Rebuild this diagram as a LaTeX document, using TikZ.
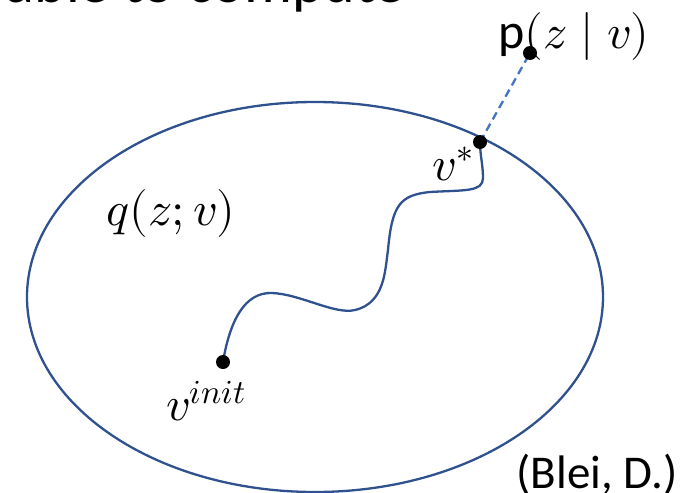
\documentclass[tikz,border=0pt]{standalone}
\usepackage{fontspec}
\usepackage{unicode-math}
\setmathfont{Latin Modern Math}
\newfontfamily\calfont{Carlito}
\definecolor{ovalblue}{HTML}{2F528F}
\definecolor{gapblue}{HTML}{4472C4}

\begin{document}
\begin{tikzpicture}[x=1pt, y=-1pt,
    curve/.style={ovalblue, line width=2.3pt},
    dot/.style={circle, fill=black, inner sep=0pt, minimum size=14pt},
    mathlbl/.style={font=\fontsize{48}{52}\selectfont, inner sep=0pt}]
  \def\Cx{315}   % centre of the family, px
  \def\Cy{297}
  \def\Rx{288}
  \def\Ry{195}

  \useasboundingbox (0,0) rectangle (686,493);
  \clip (0,0) rectangle (686,493);

  % ----- heading, cut off by the frame -----
  \node[font=\calfont\fontsize{60}{64}\selectfont, anchor=base east, inner sep=0pt]
    (head) at (405,2.5) {able to compute};

  % ----- family $q(z;v)$ -----
  \draw[curve] (\Cx,\Cy) ellipse [x radius=\Rx pt, y radius=\Ry pt];
  \node[mathlbl] (qlbl) at (171,213) {$q(z;v)$};

  % ----- points -----
  \coordinate (vinit) at (223,362);
  \coordinate (vstar) at (480,142);
  \coordinate (ptrue) at (530,53);

  \node[mathlbl] (vinitlbl) at (206,401) {$v^{init}$};
  \node[mathlbl] (vstarlbl) at (453,164) {$v^{*}$};
  \node[mathlbl] (plbl) at (574,36) {{\calfont\fontsize{50}{54}\selectfont p}$(z\mid v)$};
  \node[font=\calfont\fontsize{47}{50}\selectfont, anchor=base, inner sep=0pt]
    (cite) at (597,488) {(Blei, D.)};

  % ----- optimisation path -----
  \draw[curve] (vinit) .. controls (230,320) and (245,292) .. (272,293)
    .. controls (300,294) and (335,315) .. (355,310)
    .. controls (385,303) and (385,270) .. (388,250)
    .. controls (392,205) and (400,195) .. (430,192)
    .. controls (465,190) and (483,192) .. (483,178)
    .. controls (483,165) and (480,155) .. (vstar);
  \draw[gapblue, line width=2.3pt, dash pattern=on 8pt off 5pt] (vstar) -- (ptrue);

  \node[dot] (vinitdot) at (vinit) {};
  \node[dot] (vstardot) at (vstar) {};
  \node[dot] (ptruedot) at (ptrue) {};
\end{tikzpicture}
\end{document}
